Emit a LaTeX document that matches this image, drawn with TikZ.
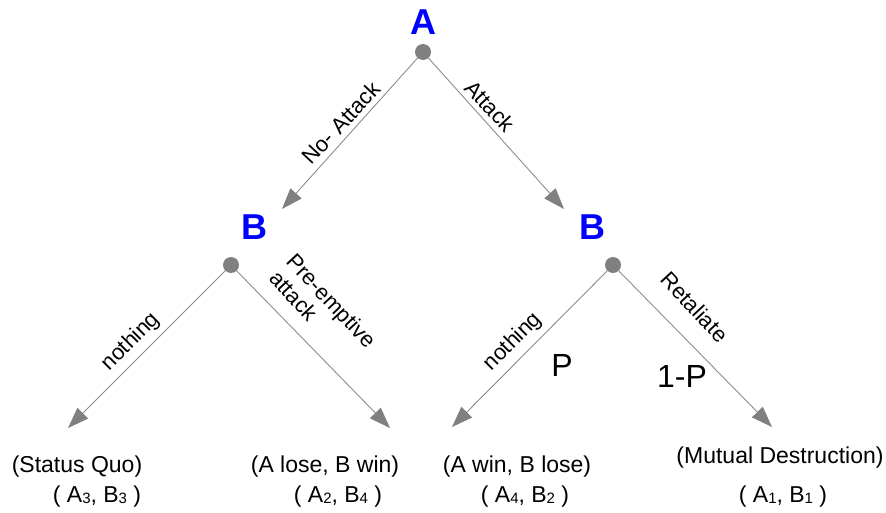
\documentclass[tikz,border=0pt]{standalone}
\usepackage{fontspec}
\setmainfont{Liberation Sans}
\usetikzlibrary{arrows.meta}
\definecolor{linegray}{RGB}{140,140,140}
\definecolor{dotgray}{RGB}{128,128,128}
\definecolor{pblue}{RGB}{0,0,255}
\newcommand{\sbx}[1]{\raisebox{-0.5pt}{\fontsize{15}{15}\selectfont #1}}
\begin{document}
\begin{tikzpicture}[x=1pt,y=-1pt,
 dot/.style={circle,fill=dotgray,inner sep=0pt,minimum size=16pt},
 player/.style={text=pblue,font=\fontsize{36}{36}\selectfont\bfseries,inner sep=0pt},
 edge/.style={draw=linegray,line width=0.9pt,-{Triangle[length=21pt,width=15pt,color=dotgray,fill=dotgray]}},
 elabel/.style={font=\fontsize{22}{24}\selectfont,inner sep=0pt},
 leaf/.style={font=\fontsize{23}{26}\selectfont,inner sep=0pt},
 prob/.style={font=\fontsize{32}{32}\selectfont,inner sep=0pt}]
\useasboundingbox (0,0) rectangle (886,513);
% players
\node[player] (lA) at (423,22) {A};
\node[player] (lB1) at (254,227) {B};
\node[player] (lB2) at (592,227) {B};
% decision points
\node[dot] (nA) at (423,52) {};
\node[dot] (nB1) at (231,265) {};
\node[dot] (nB2) at (613,265) {};
% arrow tips
\coordinate (t1) at (282,209);
\coordinate (t2) at (564,209);
\coordinate (t3) at (68,428);
\coordinate (t4) at (390,428);
\coordinate (t5) at (452,427);
\coordinate (t6) at (772,427);
% edges
\draw[edge] (nA) -- (t1);
\draw[edge] (nA) -- (t2);
\draw[edge] (nB1) -- (t3);
\draw[edge] (nB1) -- (t4);
\draw[edge] (nB2) -- (t5);
\draw[edge] (nB2) -- (t6);
% edge labels
\node[elabel,rotate=47] (e1) at (341,123) {No- Attack};
\node[elabel,rotate=-47] (e2) at (490,106) {Attack};
\node[elabel,rotate=45] (e3) at (131,342) {nothing};
\node[elabel,rotate=-47,align=left] (e4) at (323,309) {Pre-emptive\\attack};
\node[elabel,rotate=45] (e5) at (513,342) {nothing};
\node[elabel,rotate=-47] (e6) at (695,307) {Retaliate};
\node[prob] (p1) at (562,365) {P};
\node[prob] (p2) at (682,376) {1-P};
% outcomes
\node[leaf] (o1) at (77,467) {(Status Quo)};
\node[leaf] (v1) at (97,497) {( A\sbx{3}, B\sbx{3} )};
\node[leaf] (o2) at (325,467) {(A lose, B win)};
\node[leaf] (v2) at (338,497) {( A\sbx{2}, B\sbx{4} )};
\node[leaf] (o3) at (517,467) {(A win, B lose)};
\node[leaf] (v3) at (525,497) {( A\sbx{4}, B\sbx{2} )};
\node[leaf] (o4) at (780,458) {(Mutual Destruction)};
\node[leaf] (v4) at (783,497) {( A\sbx{1}, B\sbx{1} )};
\end{tikzpicture}
\end{document}
